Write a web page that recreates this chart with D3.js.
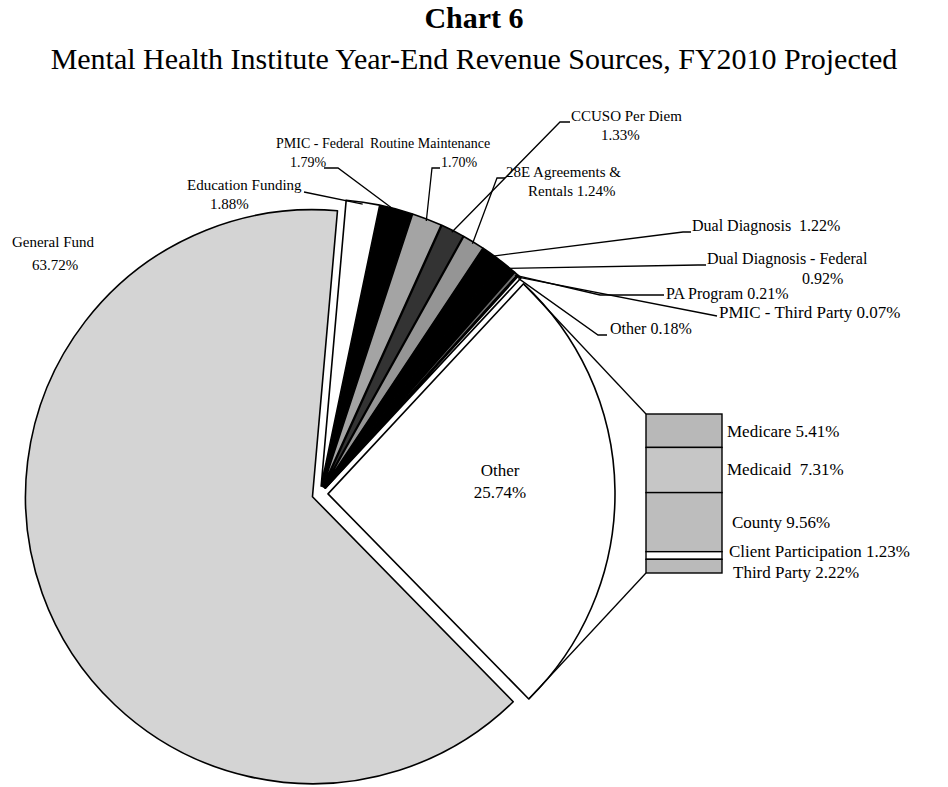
<!DOCTYPE html>
<html><head><meta charset="utf-8">
<script src="https://cdn.jsdelivr.net/npm/d3@7"></script>
<style>
body{margin:0;background:#fff}
svg{display:block}
text{font-family:"Liberation Serif","Times New Roman",serif;fill:#000}
</style>
</head><body>
<script>
// ---- data ----
const sliceNames = ["Education Funding","PMIC - Federal","Routine Maintenance","CCUSO Per Diem","28E Agreements & Rentals","Dual Diagnosis","Dual Diagnosis - Federal","PA Program","PMIC - Third Party","Other","Other","General Fund"];
const sliceValues = [1.88,1.79,1.70,1.33,1.24,1.22,0.92,0.21,0.07,0.18,25.74,63.72];
const barNames = ["Medicare","Medicaid","County","Client Participation","Third Party"];
const barValues = [5.41,7.31,9.56,1.23,2.22];
const titleText = "Chart 6";
const subtitleText = "Mental Health Institute Year-End Revenue Sources, FY2010 Projected";

// ---- styles / layout ----
const W=948,H=787;
const sliceFills = ["#ffffff","#000000","#a4a4a4","#333333","#959595","#000000","#000000","#707070","#ffffff","#ffffff","#ffffff","#d4d4d4"];
const barFills = ["#b8b8b8","#c6c6c6","#bdbdbd","#ffffff","#bababa"];
const fmt = v => d3.format(".2f")(v)+"%";

const svg = d3.select("body").append("svg").attr("width",W).attr("height",H);

svg.append("text").attr("x",474).attr("y",28).attr("text-anchor","middle")
  .style("font-weight","bold").style("font-size","30px").text(titleText);
svg.append("text").attr("x",474).attr("y",69).attr("text-anchor","middle")
  .style("font-size","30px").text(subtitleText);

const cx=320, cy=494, R=287, explode=8;
const deg = Math.PI/180;
const a0 = 5.0*deg;
const pie = d3.pie().sort(null).value(d=>d).startAngle(a0).endAngle(a0+2*Math.PI);
const arcs = pie(sliceValues);
const arcGen = d3.arc().innerRadius(0).outerRadius(R);

const g = svg.append("g").attr("transform",`translate(${cx},${cy})`);
arcs.forEach((a,i)=>{
  const m=(a.startAngle+a.endAngle)/2;
  a.ox = explode*Math.sin(m); a.oy = -explode*Math.cos(m);
  a.mid = m;
});
g.selectAll("path.slice").data(arcs).join("path").attr("class","slice")
  .attr("transform",d=>`translate(${d.ox},${d.oy})`)
  .attr("d",arcGen)
  .attr("fill",(d,i)=>sliceFills[i])
  .attr("stroke","#000").attr("stroke-width",1.6).attr("stroke-linejoin","round");

// ---- bar of "Other" ----
const barX=646, barW=76, barTop=414, barBot=573;
const yb = d3.scaleLinear().domain([0,d3.sum(barValues)]).range([barTop,barBot]);
const cum = d3.cumsum(barValues);
const barData = barValues.map((v,i)=>({name:barNames[i],v,y0:yb(cum[i]-v),y1:yb(cum[i])}));
svg.selectAll("rect.bar").data(barData).join("rect").attr("class","bar")
  .attr("x",barX).attr("width",barW)
  .attr("y",d=>d.y0).attr("height",d=>d.y1-d.y0)
  .attr("fill",(d,i)=>barFills[i]).attr("stroke","#000").attr("stroke-width",1.4);

// connector lines from Other slice to bar
const oth = arcs[10];
const pt = (a,ang,r)=>[cx+a.ox+r*Math.sin(ang), cy+a.oy-r*Math.cos(ang)];
const pA = pt(oth,oth.startAngle,R), pB = pt(oth,oth.endAngle,R);
svg.append("line").attr("x1",pA[0]).attr("y1",pA[1]).attr("x2",barX).attr("y2",barTop).attr("stroke","#000").attr("stroke-width",1.3);
svg.append("line").attr("x1",pB[0]).attr("y1",pB[1]).attr("x2",barX).attr("y2",barBot).attr("stroke","#000").attr("stroke-width",1.3);

// bar labels
const barLabelX = [727,727,732,729,733];
const barLabelY = [437,475,528,557,578];
svg.selectAll("text.bl").data(barData).join("text").attr("class","bl")
  .attr("x",(d,i)=>barLabelX[i]).attr("y",(d,i)=>barLabelY[i])
  .attr("xml:space","preserve")
  .style("font-size","17px")
  .text((d,i)=>d.name+(i===1?"  ":" ")+fmt(d.v));

// ---- slice labels ----
function label(lines, fs){
  lines.forEach(l=>{
    svg.append("text").attr("x",l.x).attr("y",l.y).attr("text-anchor",l.a||"start")
      .attr("xml:space","preserve").style("font-size",fs).text(l.t);
  });
}
function leader(i, pts, r){
  const p = pt(arcs[i], arcs[i].mid, r||R-2);
  svg.append("polyline").attr("points",[...pts,p].map(q=>q.join(",")).join(" "))
    .attr("fill","none").attr("stroke","#000").attr("stroke-width",1.3);
}
const v = sliceValues;
label([{t:sliceNames[11],x:53,y:247,a:"middle"},{t:fmt(v[11]),x:55,y:270,a:"middle"}],"15px");
label([{t:sliceNames[10],x:500,y:476,a:"middle"},{t:fmt(v[10]),x:500,y:498,a:"middle"}],"17px");

label([{t:sliceNames[0],x:187,y:190},{t:fmt(v[0]),x:210,y:209}],"15px");
leader(0,[[304,192]]);
label([{t:sliceNames[1],x:276,y:148},{t:fmt(v[1]),x:290,y:167}],"14px");
leader(1,[[324,168],[338,168]]);
label([{t:sliceNames[2],x:370,y:148},{t:fmt(v[2]),x:441,y:167}],"14px");
leader(2,[[440,168],[432,168]]);
label([{t:"CCUSO Per Diem",x:571,y:121},{t:fmt(v[3]),x:601,y:140}],"15px");
leader(3,[[570,122],[560,122]]);
label([{t:"28E Agreements &",x:506,y:177},{t:"Rentals "+fmt(v[4]),x:528,y:196}],"15px");
leader(4,[[505,178],[497,178]]);
label([{t:sliceNames[5]+"  "+fmt(v[5]),x:692,y:231}],"16px");
leader(5,[[691,232],[683,232]]);
label([{t:sliceNames[6],x:707,y:264},{t:fmt(v[6]),x:802,y:284}],"16px");
leader(6,[[706,265],[698,265]]);
label([{t:sliceNames[7]+" "+fmt(v[7]),x:666,y:299}],"16px");
leader(7,[[664,295],[600,295]]);
label([{t:sliceNames[8]+" "+fmt(v[8]),x:719,y:318}],"17px");
leader(8,[[717,316]]);
label([{t:sliceNames[9]+" "+fmt(v[9]),x:610,y:334}],"16px");
leader(9,[[607,335],[598,335]]);
</script>
</body></html>
